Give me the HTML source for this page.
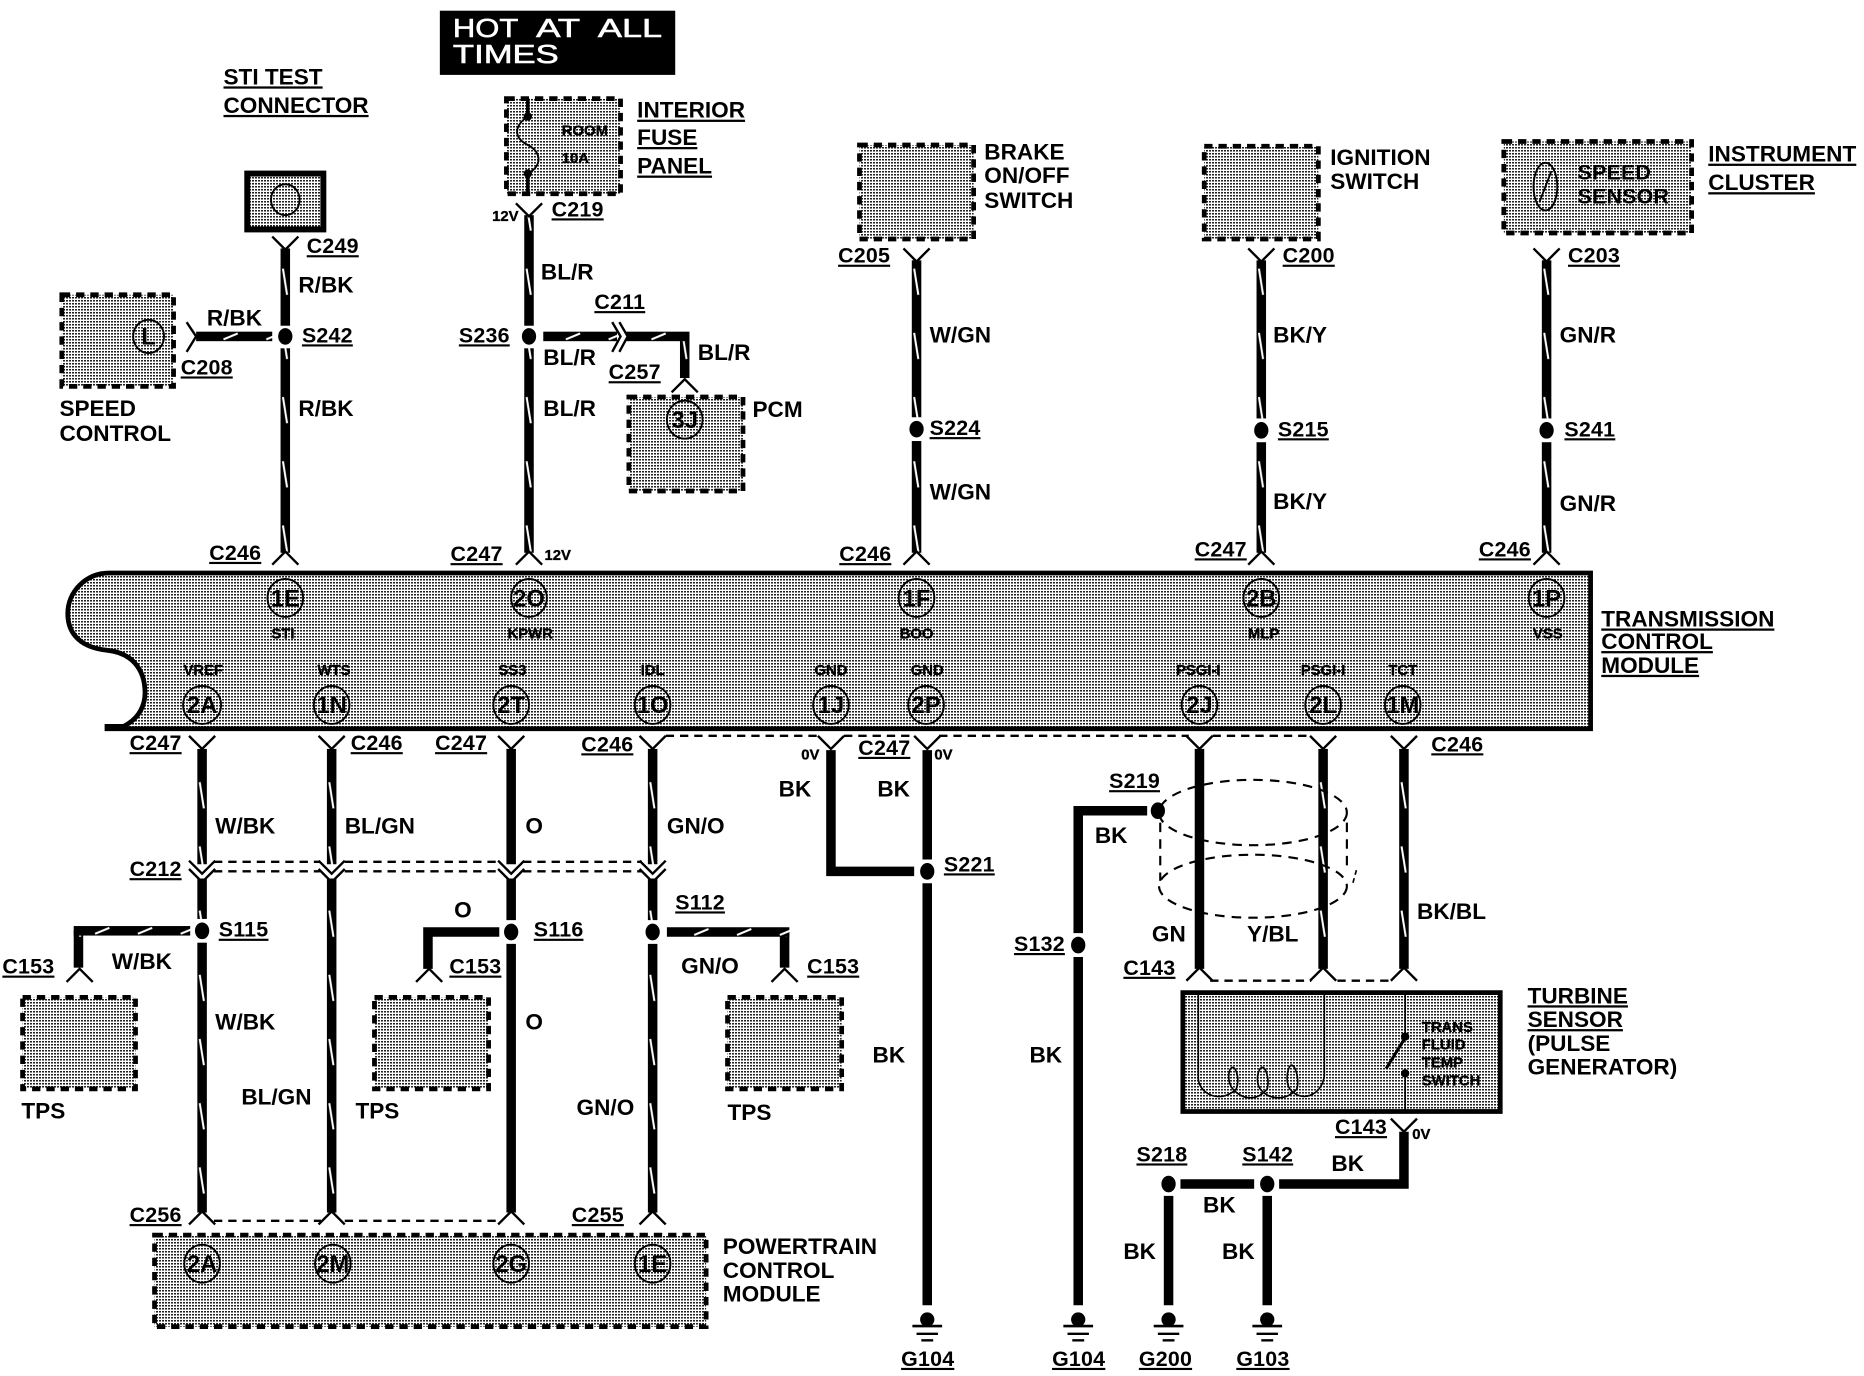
<!DOCTYPE html>
<html><head><meta charset="utf-8"><style>
html,body{margin:0;padding:0;background:#fff}
svg{display:block}
text{font-family:"Liberation Sans",sans-serif;font-weight:bold;fill:#000}
.l{font-size:19px}
.m{font-size:18px;letter-spacing:.2px}
.s{font-size:12.5px;stroke:#000;stroke-width:.3}
.p{font-size:20px}
.u{text-decoration:underline}
.c{text-anchor:middle}
.d{stroke:#000;stroke-width:4;stroke-dasharray:7 5;fill:url(#st)}
.sh{fill:none;stroke:#000;stroke-width:1.8;stroke-dasharray:8 6}
.pin{fill:none;stroke:#000;stroke-width:1.6}
.w{stroke:#000;stroke-width:8;fill:none}
.h{fill:#fff;stroke:#fff;stroke-width:.5;font-size:22px;font-weight:normal}
</style></head><body>
<svg xmlns="http://www.w3.org/2000/svg" width="1864" height="1376" viewBox="0 0 1568 1157.5" preserveAspectRatio="none">
<defs>
<pattern id="st" patternUnits="userSpaceOnUse" width="2.5236" height="2.5236"><rect width="2.5236" height="2.5236" fill="#fff"/><rect width="1.6824" height="1.3" fill="#222"/></pattern>
<pattern id="tv" patternUnits="userSpaceOnUse" x="-4" y="0" width="8" height="54"><rect width="8" height="54" fill="#000"/><path d="M2 10L5.5 32" stroke="#fff" stroke-width="1.7"/></pattern>
<pattern id="th" patternUnits="userSpaceOnUse" x="0" y="-4" width="36" height="8"><rect width="36" height="8" fill="#000"/><path d="M8 6.5L20 1.5" stroke="#fff" stroke-width="1.7"/></pattern>
<path id="yd" d="M-11 -11L0 0L11 -11" fill="none" stroke="#000" stroke-width="2"/>
<path id="yu" d="M-11 11L0 0L11 11" fill="none" stroke="#000" stroke-width="2"/>
<g id="gnd"><ellipse cx="0" cy="12" rx="6" ry="6"/><path d="M-12.5 17.5H12.5" stroke="#000" stroke-width="2.2"/><path d="M-9 24H9" stroke="#000" stroke-width="2"/><path d="M-5 29.5H5" stroke="#000" stroke-width="2"/></g>
</defs>
<rect width="1568" height="1158" fill="#fff"/>

<!-- Title -->
<rect x="370" y="9" width="198" height="54" fill="#000"/>
<text x="381" y="31" class="h" textLength="55" lengthAdjust="spacingAndGlyphs">HOT</text>
<text x="451" y="31" class="h" textLength="37" lengthAdjust="spacingAndGlyphs">AT</text>
<text x="503" y="31" class="h" textLength="54" lengthAdjust="spacingAndGlyphs">ALL</text>
<text x="381" y="53" class="h" textLength="89" lengthAdjust="spacingAndGlyphs">TIMES</text>

<!-- TCM -->
<path d="M92 482H1338V613H90V611L104 611C118 604 122 592 122 583C122 562 110 549 90 547C70 545 57 535 57 516C57 498 72 482 92 482Z" fill="url(#st)" stroke="#000" stroke-width="4"/>
<g class="pin">
<ellipse cx="240" cy="503" rx="15" ry="16"/><ellipse cx="445" cy="503" rx="15" ry="16"/><ellipse cx="771" cy="503" rx="15" ry="16"/><ellipse cx="1061" cy="503" rx="15" ry="16"/><ellipse cx="1301" cy="503" rx="15" ry="16"/>
<ellipse cx="170" cy="593" rx="16" ry="16"/><ellipse cx="279" cy="593" rx="15" ry="16"/><ellipse cx="430" cy="593" rx="15" ry="16"/><ellipse cx="549" cy="593" rx="15" ry="16"/><ellipse cx="699" cy="593" rx="15" ry="16"/><ellipse cx="779" cy="593" rx="15" ry="16"/><ellipse cx="1009" cy="593" rx="15" ry="16"/><ellipse cx="1113" cy="593" rx="15" ry="16"/><ellipse cx="1180" cy="593" rx="15" ry="16"/>
</g>
<g class="p c">
<text x="240" y="510">1E</text><text x="445" y="510">2O</text><text x="771" y="510">1F</text><text x="1061" y="510">2B</text><text x="1301" y="510">1P</text>
<text x="170" y="600">2A</text><text x="279" y="600">1N</text><text x="430" y="600">2T</text><text x="549" y="600">1O</text><text x="699" y="600">1J</text><text x="779" y="600">2P</text><text x="1009" y="600">2J</text><text x="1113" y="600">2L</text><text x="1180" y="600">1M</text>
</g>
<g class="s c">
<text x="238" y="537">STI</text><text x="446" y="537">KPWR</text><text x="771" y="537">BOO</text><text x="1063" y="537">MLP</text><text x="1302" y="537">VSS</text>
<text x="171" y="568">VREF</text><text x="281" y="568">WTS</text><text x="431" y="568">SS3</text><text x="549" y="568">IDL</text><text x="699" y="568">GND</text><text x="780" y="568">GND</text><text x="1008" y="568">PSGI-I</text><text x="1113" y="568">PSGI-I</text><text x="1180" y="568">TCT</text>
</g>

<!-- Boxes -->
<rect x="208" y="146" width="64" height="47" fill="url(#st)" stroke="#000" stroke-width="5"/>
<ellipse cx="240" cy="168" rx="12" ry="13" class="pin"/>
<rect x="52" y="248" width="94" height="77" class="d"/>
<ellipse cx="125" cy="283" rx="13" ry="14" class="pin"/><text x="125" y="290" class="p c">L</text>
<rect x="426" y="83" width="96" height="80" class="d"/>
<path d="M444 83V98C432 106 432 116 444 122C456 128 456 140 444 146V164" fill="none" stroke="#000" stroke-width="1.6"/>
<path d="M444 83V98M444 146V164" fill="none" stroke="#000" stroke-width="3"/>
<circle cx="444" cy="98" r="3.5"/><circle cx="444" cy="146" r="3.5"/>
<text x="492" y="114" class="s c">ROOM</text><text x="484" y="137" class="s c">10A</text>
<rect x="529" y="334" width="96" height="79" class="d"/>
<ellipse cx="576" cy="353" rx="15" ry="16" class="pin"/><text x="576" y="360" class="p c">3J</text>
<rect x="723" y="122" width="96" height="79" class="d"/>
<rect x="1013" y="123" width="96" height="78" class="d"/>
<rect x="1265" y="119" width="158" height="77" class="d"/>
<ellipse cx="1300" cy="157" rx="10" ry="20" class="pin"/><path d="M1295 170L1305 144" stroke="#000" stroke-width="1.6"/>
<text x="1327" y="151" class="m">SPEED</text><text x="1327" y="171" class="m">SENSOR</text>
<rect x="19" y="839" width="95" height="77" class="d"/>
<rect x="315" y="839" width="96" height="77" class="d"/>
<rect x="612" y="839" width="96" height="77" class="d"/>
<rect x="130" y="1039" width="464" height="77" class="d"/>
<g class="pin"><ellipse cx="170" cy="1063" rx="15" ry="16"/><ellipse cx="280" cy="1063" rx="15" ry="16"/><ellipse cx="430" cy="1063" rx="15" ry="16"/><ellipse cx="549" cy="1063" rx="15" ry="16"/></g>
<g class="p c"><text x="170" y="1070">2A</text><text x="280" y="1070">2M</text><text x="430" y="1070">2G</text><text x="549" y="1070">1E</text></g>

<!-- Turbine -->
<rect x="995" y="835" width="267" height="100" fill="url(#st)" stroke="#000" stroke-width="4"/>
<path d="M1008 835V908C1010 922 1028 928 1040 916C1043 908 1040 898 1037 898C1033 898 1032 910 1037 916C1046 926 1058 926 1066 916C1068 908 1065 898 1062 898C1058 898 1056 910 1060 916C1068 926 1082 926 1091 916C1093 908 1090 896 1086 896C1083 898 1081 910 1085 916C1094 928 1112 922 1114 905V835M1182 835V872M1182 903V935" fill="none" stroke="#000" stroke-width="1.4"/>
<circle cx="1182" cy="872" r="3.5"/><circle cx="1182" cy="903" r="3.5"/><path d="M1182 873L1166 899" stroke="#000" stroke-width="2.5"/>
<g class="s"><text x="1196" y="868">TRANS</text><text x="1196" y="883">FLUID</text><text x="1196" y="898">TEMP</text><text x="1196" y="913">SWITCH</text></g>

<!-- Tracer wires vertical -->
<g transform="translate(240,0)"><rect x="-4" y="209" width="8" height="65" fill="url(#tv)"/><rect x="-4" y="293" width="8" height="172" fill="url(#tv)"/></g>
<g transform="translate(445,0)"><rect x="-4" y="181" width="8" height="93" fill="url(#tv)"/><rect x="-4" y="293" width="8" height="172" fill="url(#tv)"/></g>
<g transform="translate(771,0)"><rect x="-4" y="219" width="8" height="132" fill="url(#tv)"/><rect x="-4" y="371" width="8" height="94" fill="url(#tv)"/></g>
<g transform="translate(1061,0)"><rect x="-4" y="219" width="8" height="133" fill="url(#tv)"/><rect x="-4" y="372" width="8" height="93" fill="url(#tv)"/></g>
<g transform="translate(1301,0)"><rect x="-4" y="219" width="8" height="133" fill="url(#tv)"/><rect x="-4" y="372" width="8" height="93" fill="url(#tv)"/></g>
<g transform="translate(170,0)"><rect x="-4" y="630" width="8" height="97" fill="url(#tv)"/><rect x="-4" y="739" width="8" height="34" fill="url(#tv)"/><rect x="-4" y="793" width="8" height="227" fill="url(#tv)"/></g>
<g transform="translate(279,0)"><rect x="-4" y="630" width="8" height="97" fill="url(#tv)"/><rect x="-4" y="739" width="8" height="281" fill="url(#tv)"/></g>
<g transform="translate(549,0)"><rect x="-4" y="630" width="8" height="97" fill="url(#tv)"/><rect x="-4" y="739" width="8" height="35" fill="url(#tv)"/><rect x="-4" y="794" width="8" height="226" fill="url(#tv)"/></g>
<g transform="translate(1113,0)"><rect x="-4" y="630" width="8" height="185" fill="url(#tv)"/></g>
<g transform="translate(1181,0)"><rect x="-4" y="630" width="8" height="185" fill="url(#tv)"/></g>
<g transform="translate(576,0)"><rect x="-4" y="283" width="8" height="35" fill="url(#tv)"/></g>
<g transform="translate(66,0)"><rect x="-4" y="783" width="8" height="31" fill="url(#tv)"/></g>
<g transform="translate(660,0)"><rect x="-4" y="784" width="8" height="30" fill="url(#tv)"/></g>
<!-- Tracer wires horizontal -->
<g transform="translate(0,283)"><rect x="165" y="-4" width="64" height="8" fill="url(#th)"/><rect x="457" y="-4" width="62" height="8" fill="url(#th)"/><rect x="527" y="-4" width="53" height="8" fill="url(#th)"/></g>
<g transform="translate(0,783)"><rect x="62" y="-4" width="98" height="8" fill="url(#th)"/></g>
<g transform="translate(0,784)"><rect x="561" y="-4" width="103" height="8" fill="url(#th)"/></g>

<!-- Solid wires -->
<path class="w" d="M430 630V727M430 739V774M430 794V1020"/>
<path class="w" d="M420 784H360V815"/>
<path class="w" d="M699 631V733H769"/>
<path class="w" d="M780 631V723M780 743V1098"/>
<path class="w" d="M965 682H907V785M907 805V1098"/>
<path class="w" d="M1009 630V815"/>
<path class="w" d="M1181 952V996H1076M1055 996H993M983 1006V1098M1066 1006V1098"/>

<!-- Connectors -->
<use href="#yd" x="240" y="210"/><use href="#yd" x="445" y="182"/><use href="#yd" x="771" y="220"/><use href="#yd" x="1061" y="220"/><use href="#yd" x="1301" y="220"/>
<use href="#yu" x="240" y="464"/><use href="#yu" x="445" y="464"/><use href="#yu" x="771" y="464"/><use href="#yu" x="1061" y="464"/><use href="#yu" x="1301" y="464"/>
<use href="#yu" x="576" y="319"/><use href="#yu" x="67" y="815"/><use href="#yu" x="361" y="815"/><use href="#yu" x="660" y="815"/>
<use href="#yd" x="170" y="630"/><use href="#yd" x="279" y="630"/><use href="#yd" x="430" y="630"/><use href="#yd" x="549" y="630"/><use href="#yd" x="699" y="630"/><use href="#yd" x="780" y="630"/><use href="#yd" x="1009" y="630"/><use href="#yd" x="1113" y="630"/><use href="#yd" x="1181" y="630"/>
<use href="#yd" x="170" y="735"/><use href="#yd" x="170" y="742"/><use href="#yd" x="279" y="735"/><use href="#yd" x="279" y="742"/><use href="#yd" x="430" y="735"/><use href="#yd" x="430" y="742"/><use href="#yd" x="549" y="735"/><use href="#yd" x="549" y="742"/>
<use href="#yu" x="170" y="1019"/><use href="#yu" x="279" y="1019"/><use href="#yu" x="430" y="1019"/><use href="#yu" x="549" y="1019"/>
<use href="#yu" x="1009" y="814"/><use href="#yu" x="1113" y="814"/><use href="#yu" x="1181" y="814"/>
<use href="#yd" x="1181" y="952"/>
<path d="M157 271L165 283L157 296" fill="none" stroke="#000" stroke-width="2"/>
<path d="M515 271L522 283L515 296M521 271L528 283L521 296" fill="none" stroke="#000" stroke-width="2"/>

<!-- Dashed links / shields -->
<g fill="none" stroke="#000" stroke-width="2" stroke-dasharray="7 5">
<path d="M180 725H269M180 733H269M290 725H420M290 733H420M440 725H540M440 733H540"/>
<path d="M180 1027H270M290 1027H420"/>
<path d="M560 619H690M710 619H768M790 619H1000M1020 619H1103M1018 825H1103M1125 825H1171"/>
</g>
<ellipse cx="1054" cy="683.5" rx="79" ry="27.5" class="sh"/>
<ellipse cx="1054" cy="745.5" rx="79" ry="26.5" class="sh"/>
<path d="M976 692V741M1133 692V729" class="sh"/>
<path d="M1141 732L1138 743" fill="none" stroke="#000" stroke-width="1.4" stroke-dasharray="4 3"/>

<!-- Dots -->
<ellipse cx="240" cy="283" rx="6" ry="7"/><ellipse cx="445" cy="283" rx="6" ry="7"/><ellipse cx="771" cy="361" rx="6" ry="7"/><ellipse cx="1061" cy="362" rx="6" ry="7"/><ellipse cx="1301" cy="362" rx="6" ry="7"/>
<ellipse cx="170" cy="783" rx="6" ry="7"/><ellipse cx="430" cy="784" rx="6" ry="7"/><ellipse cx="549" cy="784" rx="6" ry="7"/><ellipse cx="780" cy="733" rx="6" ry="7"/><ellipse cx="974" cy="682" rx="6" ry="7"/><ellipse cx="907" cy="795" rx="6" ry="7"/><ellipse cx="983" cy="996" rx="6" ry="7"/><ellipse cx="1066" cy="996" rx="6" ry="7"/>

<!-- Grounds -->
<use href="#gnd" x="780" y="1098"/><use href="#gnd" x="907" y="1098"/><use href="#gnd" x="983" y="1098"/><use href="#gnd" x="1066" y="1098"/>

<!-- Component labels -->
<g class="l">
<text x="188" y="71" class="u">STI TEST </text><text x="188" y="95" class="u">CONNECTOR</text>
<text x="536" y="99" class="u">INTERIOR</text><text x="536" y="122" class="u">FUSE </text><text x="536" y="146" class="u">PANEL</text>
<text x="50" y="350">SPEED</text><text x="50" y="371">CONTROL</text>
<text x="633" y="351">PCM</text>
<text x="828" y="134">BRAKE</text><text x="828" y="154">ON/OFF</text><text x="828" y="175">SWITCH</text>
<text x="1119" y="139">IGNITION</text><text x="1119" y="159">SWITCH</text>
<text x="1437" y="136" class="u">INSTRUMENT</text><text x="1437" y="160" class="u">CLUSTER</text>
<text x="1347" y="527" class="u">TRANSMISSION</text><text x="1347" y="546" class="u">CONTROL</text><text x="1347" y="566" class="u">MODULE</text>
<text x="18" y="941">TPS</text><text x="299" y="941">TPS</text><text x="612" y="942">TPS</text>
<text x="608" y="1055">POWERTRAIN</text><text x="608" y="1075">CONTROL</text><text x="608" y="1095">MODULE</text>
<text x="1285" y="844" class="u">TURBINE</text><text x="1285" y="864" class="u">SENSOR</text><text x="1285" y="884">(PULSE</text><text x="1285" y="904">GENERATOR)</text>
<!-- Wire colors -->
<text x="251" y="246">R/BK</text><text x="174" y="274">R/BK</text><text x="251" y="350">R/BK</text>
<text x="455" y="235">BL/R</text><text x="457" y="307">BL/R</text><text x="587" y="303">BL/R</text><text x="457" y="350">BL/R</text>
<text x="782" y="288">W/GN</text><text x="782" y="420">W/GN</text>
<text x="1071" y="288">BK/Y</text><text x="1071" y="428">BK/Y</text>
<text x="1312" y="288">GN/R</text><text x="1312" y="430">GN/R</text>
<text x="181" y="701">W/BK</text><text x="94" y="815">W/BK</text><text x="181" y="866">W/BK</text>
<text x="290" y="701">BL/GN</text><text x="203" y="929">BL/GN</text>
<text x="442" y="701">O</text><text x="382" y="772">O</text><text x="442" y="866">O</text>
<text x="561" y="701">GN/O</text><text x="573" y="819">GN/O</text><text x="485" y="938">GN/O</text>
<text x="655" y="670">BK</text><text x="738" y="670">BK</text><text x="734" y="894">BK</text>
<text x="921" y="709">BK</text><text x="866" y="894">BK</text>
<text x="969" y="792">GN</text><text x="1049" y="792">Y/BL</text><text x="1192" y="773">BK/BL</text>
<text x="1120" y="985">BK</text><text x="1012" y="1020">BK</text><text x="945" y="1059">BK</text><text x="1028" y="1059">BK</text>
</g>

<!-- Connector / splice labels -->
<g class="m u">
<text x="258" y="213">C249</text><text x="464" y="182">C219</text><text x="152" y="315">C208</text><text x="500" y="260">C211</text><text x="512" y="319">C257</text>
<text x="254" y="288">S242</text><text x="386" y="288">S236</text>
<text x="705" y="221">C205</text><text x="1079" y="221">C200</text><text x="1319" y="221">C203</text>
<text x="782" y="366">S224</text><text x="1075" y="367">S215</text><text x="1316" y="367">S241</text>
<text x="176" y="471">C246</text><text x="379" y="472">C247</text><text x="706" y="472">C246</text><text x="1005" y="468">C247</text><text x="1244" y="468">C246</text>
<text x="109" y="631">C247</text><text x="295" y="631">C246</text><text x="366" y="631">C247</text><text x="489" y="632">C246</text><text x="722" y="635">C247</text><text x="1204" y="632">C246</text>
<text x="109" y="737">C212</text>
<text x="184" y="788">S115</text><text x="449" y="788">S116</text><text x="568" y="765">S112</text><text x="794" y="733">S221</text>
<text x="2" y="819">C153</text><text x="378" y="819">C153</text><text x="679" y="819">C153</text>
<text x="109" y="1028">C256</text><text x="481" y="1028">C255</text>
<text x="933" y="663">S219</text><text x="853" y="800">S132</text><text x="945" y="820">C143</text><text x="1123" y="954">C143</text>
<text x="956" y="977">S218</text><text x="1045" y="977">S142</text>
<text x="758" y="1149">G104</text><text x="885" y="1149">G104</text><text x="958" y="1149">G200</text><text x="1040" y="1149">G103</text>
</g>

<!-- Voltages -->
<g class="s">
<text x="414" y="186">12V</text><text x="458" y="471">12V</text>
<text x="674" y="639">0V</text><text x="786" y="639">0V</text><text x="1188" y="958">0V</text>
</g>
</svg>
</body></html>
